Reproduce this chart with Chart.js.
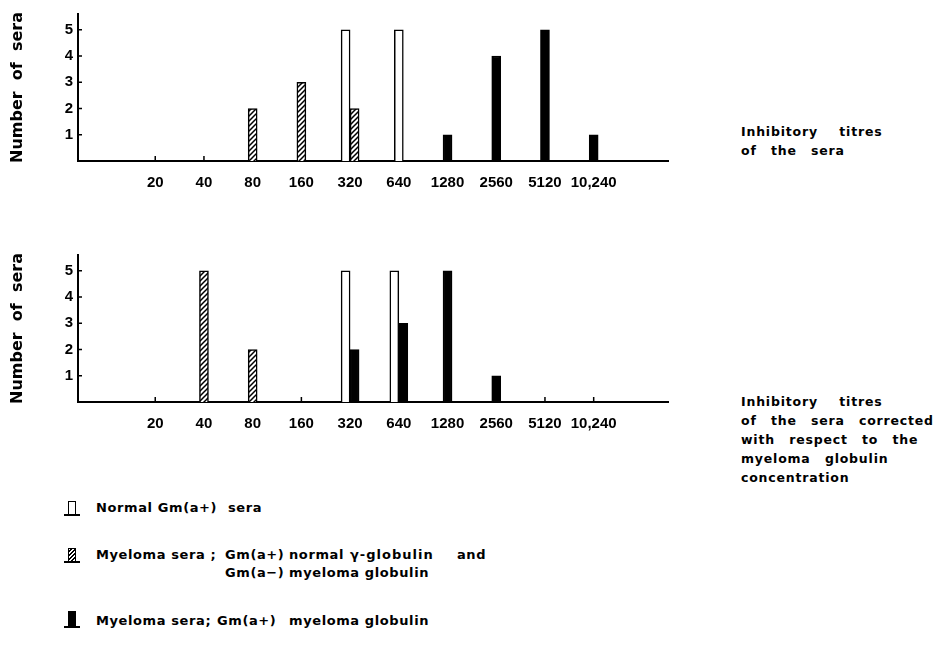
<!DOCTYPE html>
<html>
<head>
<meta charset="utf-8">
<script src="https://cdn.jsdelivr.net/npm/chart.js@4.4.1/dist/chart.umd.min.js"></script>
<style>
  body { margin:0; background:#fff; width:943px; height:654px; position:relative; overflow:hidden;
         font-family:'DejaVu Sans', sans-serif; font-weight:bold; color:#000; }
  .panel { position:absolute; left:0; }
  .note { position:absolute; left:741px; font-size:12.5px; line-height:19px; letter-spacing:0.8px; word-spacing:2px; white-space:pre; }
  .w { position:absolute; font-size:13px; letter-spacing:0.6px; white-space:pre; line-height:16px; }
  .ico { position:absolute; left:64px; width:16px; height:14px; border-bottom:2px solid #000; }
  .ico i { position:absolute; left:4px; bottom:0; width:6px; height:12px; border:1.5px solid #000; border-bottom:none; }
  .open i { background:#fff; }
  .hatch i { background:repeating-linear-gradient(-45deg, #fff 0 1.6px, #000 1.6px 3px); }
  .solid i { background:#000; height:14px; }
</style>
</head>
<body>
<canvas id="top" class="panel" style="top:0px" width="680" height="200"></canvas>
<canvas id="bottom" class="panel" style="top:241px" width="680" height="200"></canvas>

<div class="note" style="top:122px">Inhibitory   titres
of  the  sera</div>
<div class="note" style="top:392px">Inhibitory   titres
of  the  sera  corrected
with  respect  to  the
myeloma  globulin
concentration</div>

<!-- legend -->
<span class="ico open" style="top:500px"><i></i></span>
<span class="w" style="left:96px;top:500px">Normal Gm(a+)</span>
<span class="w" style="left:228px;top:500px">sera</span>

<span class="ico hatch" style="top:547px"><i></i></span>
<span class="w" style="left:96px;top:547px">Myeloma sera ;</span>
<span class="w" style="left:225px;top:547px">Gm(a+)</span>
<span class="w" style="left:289px;top:547px">normal</span>
<span class="w" style="left:350px;top:547px;letter-spacing:1px">γ-globulin</span>
<span class="w" style="left:457px;top:547px">and</span>
<span class="w" style="left:225px;top:565px">Gm(a−)</span>
<span class="w" style="left:289px;top:565px">myeloma globulin</span>

<span class="ico solid" style="top:612px"><i></i></span>
<span class="w" style="left:96px;top:613px">Myeloma sera;</span>
<span class="w" style="left:217px;top:613px">Gm(a+)</span>
<span class="w" style="left:289px;top:613px">myeloma globulin</span>

<script>
// titre categories on the x axis
var titres = ['20', '40', '80', '160', '320', '640', '1280', '2560', '5120', '10,240'];
var countTicks = [1, 2, 3, 4, 5];

// upper panel: inhibitory titres of the sera
var normalTop  = [null, null, null, null, 5, 5, null, null, null, null];
var mixedTop   = [null, null, 2, 3, 2, null, null, null, null, null];
var myelomaTop = [null, null, null, null, null, null, 1, 4, 5, 1];

// lower panel: titres corrected for myeloma globulin concentration
var normalBottom  = [null, null, null, null, 5, 5, null, null, null, null];
var mixedBottom   = [null, 5, 2, null, null, null, null, null, null, null];
var myelomaBottom = [null, null, null, null, 2, 3, 5, 1, null, null];

var tickFont = { family: "'Liberation Sans', Arial, sans-serif", size: 15, weight: 'bold' };

function hatch() {
  var c = document.createElement('canvas');
  c.width = 5; c.height = 5;
  var g = c.getContext('2d');
  g.fillStyle = '#fff';
  g.fillRect(0, 0, 5, 5);
  g.strokeStyle = '#000';
  g.lineWidth = 1.5;
  g.beginPath();
  g.moveTo(-1, 6); g.lineTo(6, -1);
  g.moveTo(-3.5, 3.5); g.lineTo(3.5, -3.5);
  g.moveTo(1.5, 8.5); g.lineTo(8.5, 1.5);
  g.stroke();
  return g.createPattern(c, 'repeat');
}

function toPoints(arr) {
  return arr.map(function (v, i) { return { x: i, y: v }; });
}

// little marks on the inside of both axes
var innerTicks = {
  id: 'innerTicks',
  beforeDatasetsDraw: function (chart) {
    var ctx = chart.ctx, ca = chart.chartArea;
    var xs = chart.scales.x, ys = chart.scales.y;
    ctx.save();
    ctx.strokeStyle = '#000';
    ctx.lineWidth = 1.5;
    ctx.beginPath();
    ys.ticks.forEach(function (t) {
      var py = ys.getPixelForValue(t.value);
      ctx.moveTo(ca.left, py); ctx.lineTo(ca.left + 4, py);
    });
    xs.ticks.forEach(function (t) {
      var px = xs.getPixelForValue(t.value);
      ctx.moveTo(px, ca.bottom); ctx.lineTo(px, ca.bottom - 5);
    });
    ctx.stroke();
    ctx.restore();
  }
};

function makePanel(id, normal, mixed, myeloma) {
  var common = { borderColor: '#000', borderWidth: 1.5, barThickness: 9, skipNull: true };
  new Chart(document.getElementById(id), {
    type: 'bar',
    data: {
      datasets: [
        Object.assign({ label: 'Normal Gm(a+) sera', data: toPoints(normal), backgroundColor: '#fff' }, common),
        Object.assign({ label: 'Myeloma sera; Gm(a+) normal γ-globulin and Gm(a−) myeloma globulin', data: toPoints(mixed), backgroundColor: hatch() }, common),
        Object.assign({ label: 'Myeloma sera; Gm(a+) myeloma globulin', data: toPoints(myeloma), backgroundColor: '#000' }, common)
      ]
    },
    options: {
      responsive: false,
      animation: false,
      layout: { padding: { top: 13, left: 8, right: 12, bottom: 0 } },
      plugins: { legend: { display: false }, tooltip: { enabled: false } },
      scales: {
        x: {
          type: 'linear',
          min: -0.98,
          max: 9.92,
          grid: { display: false, drawTicks: false },
          border: { color: '#000', width: 2 },
          afterBuildTicks: function (s) { s.ticks = titres.map(function (t, i) { return { value: i }; }); },
          afterFit: function (s) { s.height = 39; },
          ticks: {
            color: '#000', font: tickFont, padding: 13, autoSkip: false, maxRotation: 0,
            callback: function (v) { return titres[v]; }
          }
        },
        y: {
          min: 0,
          max: 5.6,
          grid: { display: false, drawTicks: false },
          border: { color: '#000', width: 2 },
          afterBuildTicks: function (s) { s.ticks = countTicks.map(function (v) { return { value: v }; }); },
          afterFit: function (s) { s.width = 70; },
          ticks: { color: '#000', font: tickFont, padding: 5 },
          title: {
            display: true, text: 'Number  of  sera', color: '#000', padding: 0,
            font: { family: "'DejaVu Sans', sans-serif", size: 16, weight: 'bold' }
          }
        }
      }
    },
    plugins: [innerTicks]
  });
}

makePanel('top', normalTop, mixedTop, myelomaTop);
makePanel('bottom', normalBottom, mixedBottom, myelomaBottom);
</script>
</body>
</html>
